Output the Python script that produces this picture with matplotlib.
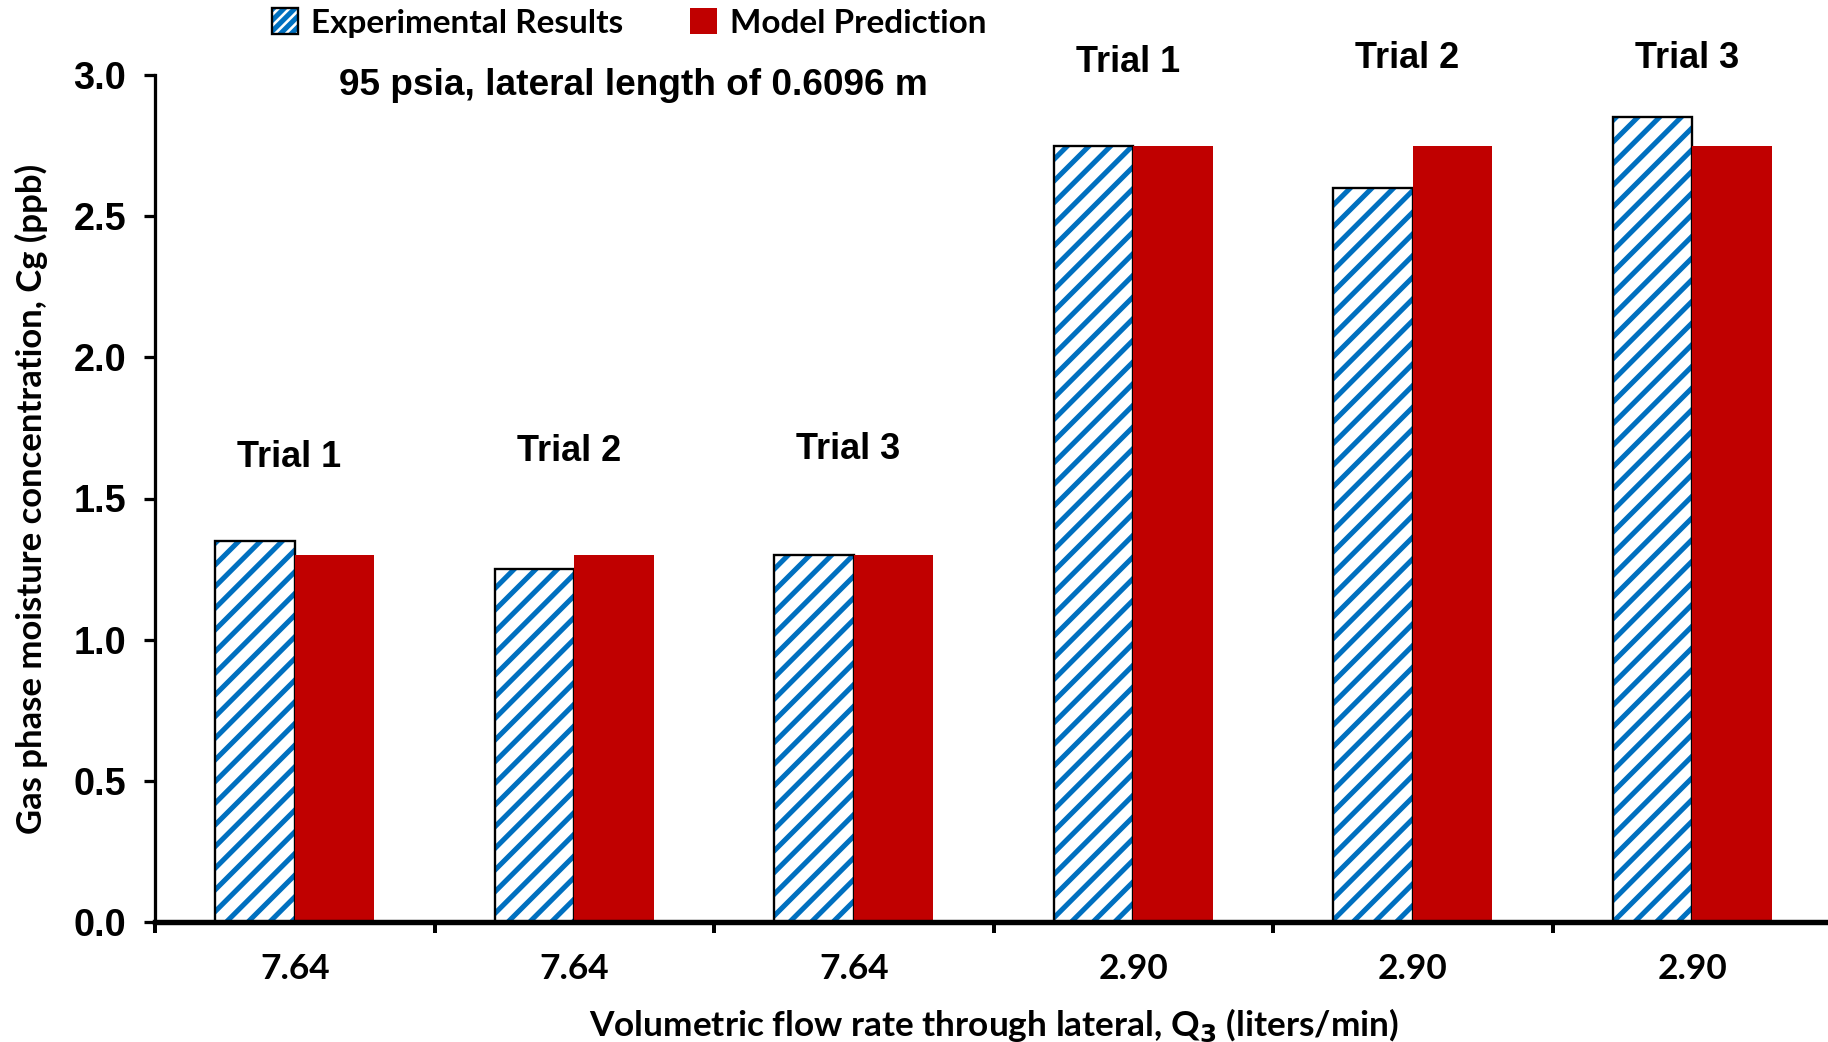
import matplotlib.pyplot as plt
import matplotlib.patches as mpatches
from matplotlib.legend_handler import HandlerTuple
import numpy as np

# flow rate per trial (liters/min) and measured / modelled moisture (ppb)
flow_labels = ["7.64", "7.64", "7.64", "2.90", "2.90", "2.90"]
trial_names = ["Trial 1", "Trial 2", "Trial 3", "Trial 1", "Trial 2", "Trial 3"]
experimental = [1.35, 1.25, 1.30, 2.75, 2.60, 2.85]
model = [1.30, 1.30, 1.30, 2.75, 2.75, 2.75]
trial_label_y = [1.645, 1.665, 1.675, 3.045, 3.06, 3.06]

BLUE = "#0070C0"
RED = "#C00000"

plt.rcParams["hatch.linewidth"] = 2.8

fig = plt.figure(figsize=(1828 / 130, 1042 / 130), dpi=130)
ax = fig.add_axes([155 / 1828, 1 - 922 / 1042, 1677 / 1828, 847 / 1042])

x = np.arange(len(flow_labels))
w = 0.285

# hatched experimental bars: blue stripes, then a black outline on top
ax.bar(x - w / 2, experimental, w, color="white", edgecolor=BLUE, hatch="//", linewidth=0)
ax.bar(x - w / 2, experimental, w, color="none", edgecolor="black", linewidth=1.3)
ax.bar(x + w / 2, model, w, color=RED, linewidth=0)

for xi, name, ty in zip(x, trial_names, trial_label_y):
    ax.text(xi - 0.02, ty, name, ha="center", va="center", fontsize=20,
            fontweight="bold", family="Liberation Sans", clip_on=False)

ax.text(0.285, 0.988, "95 psia, lateral length of 0.6096 m", transform=ax.transAxes,
        ha="center", va="center", fontsize=20.5, fontweight="bold", family="Liberation Sans")

ax.set_xlim(-0.5, len(x) - 0.5)
ax.set_ylim(0, 3.0)
ax.set_yticks(np.arange(0, 3.01, 0.5))
ax.set_yticklabels([f"{v:.1f}" for v in np.arange(0, 3.01, 0.5)],
                   fontsize=21, fontweight="bold", family="Liberation Sans")
ax.set_xticks(x)
ax.set_xticklabels(flow_labels, fontsize=19.5, fontweight="bold", family="Lato")
ax.set_xticks(np.arange(-0.5, len(x), 1.0), minor=True)
ax.tick_params(axis="x", which="major", length=0, pad=17)
ax.tick_params(axis="x", which="minor", length=6, width=2.2, direction="out")
ax.tick_params(axis="y", which="major", length=6, width=1.8, direction="out", pad=10)

for side in ["top", "right"]:
    ax.spines[side].set_visible(False)
ax.spines["left"].set_linewidth(1.8)
ax.spines["bottom"].set_linewidth(3.0)

ax.set_xlabel("Volumetric flow rate through lateral, Q$_\\mathbf{3}$ (liters/min)",
              fontsize=19.5, fontweight="bold", family="Lato", labelpad=12)
ax.set_ylabel("Gas phase moisture concentration, Cg (ppb)",
              fontsize=19.2, fontweight="bold", family="Lato", labelpad=14)

exp_hatch = mpatches.Patch(facecolor="white", edgecolor=BLUE, hatch="////", linewidth=0)
exp_edge = mpatches.Patch(facecolor="none", edgecolor="black", linewidth=1.3)
model_patch = mpatches.Patch(facecolor=RED, linewidth=0)
fig.legend([(exp_hatch, exp_edge), model_patch], ["Experimental Results", "Model Prediction"],
           handler_map={tuple: HandlerTuple(ndivide=1)},
           loc="center", bbox_to_anchor=(629 / 1828, 1 - 23 / 1042), ncol=2, frameon=False,
           prop={"family": "Lato", "weight": "bold", "size": 18.4},
           handlelength=0.8, handleheight=0.8, handletextpad=0.4, columnspacing=2.0)

fig.savefig("out.png", dpi=130)
